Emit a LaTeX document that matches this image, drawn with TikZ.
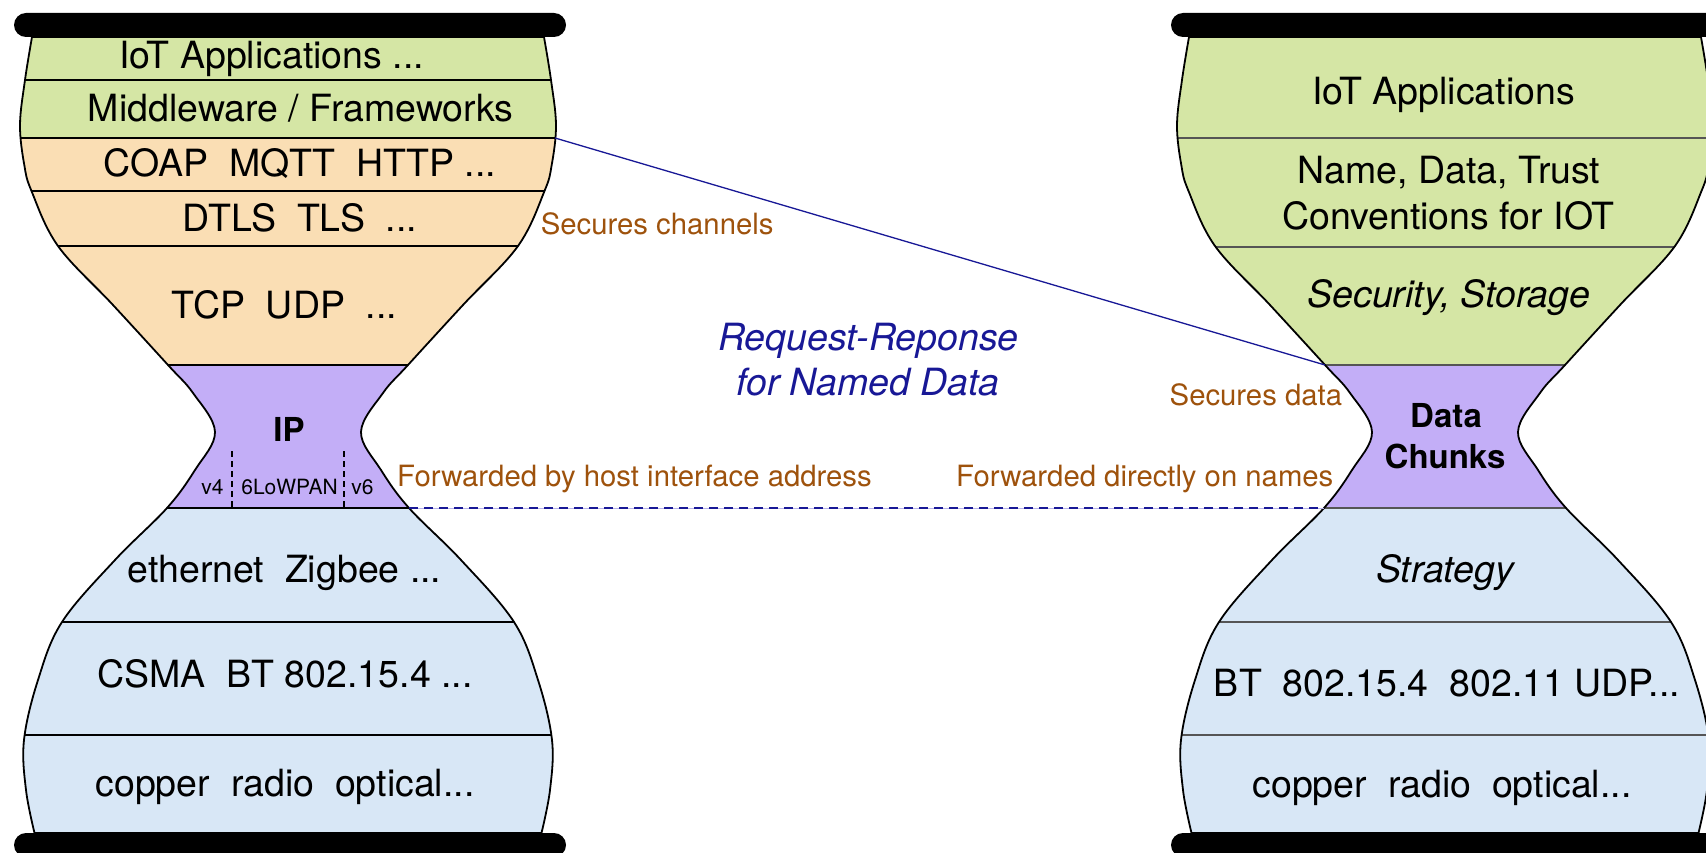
\documentclass[tikz,border=0pt]{standalone}
\usepackage{fontspec}
\setmainfont{TeX Gyre Heros}
\definecolor{layergreen}{RGB}{213,230,165}
\definecolor{layerpeach}{RGB}{250,222,180}
\definecolor{layerpurple}{RGB}{195,174,247}
\definecolor{layerblue}{RGB}{216,231,246}
\definecolor{notebrown}{RGB}{158,82,12}
\definecolor{linknavy}{RGB}{24,24,150}
\definecolor{linkhaze}{RGB}{185,180,236}
\definecolor{sepgray}{RGB}{85,85,85}

% outline of one hourglass, centred on x = 0
\newcommand{\hgpath}{plot[smooth,tension=0.6] coordinates {(-256,37) (-263,80) (-268,125) (-263.7,165) (-256.5,191) (-230,246) (-175,305) (-120,365) (-95,393) (-73,432) (-93,470) (-121,508) (-173,560) (-226,622) (-250,680) (-264,740) (-262,790) (-253.5,833)}
 -- plot[smooth,tension=0.6] coordinates {(253.5,833) (262,790) (264,740) (250,680) (226,622) (173,560) (121,508) (93,470) (73,432) (95,393) (120,365) (175,305) (230,246) (256.5,191) (263.7,165) (268,125) (263,80) (256,37)} -- cycle}

\tikzset{
  layertext/.style={inner sep=0pt, anchor=base, font=\fontsize{37.5}{45}\selectfont},
  layeritalic/.style={layertext, font=\fontsize{37.5}{45}\selectfont\itshape},
  neckbold/.style={inner sep=0pt, anchor=base, font=\fontsize{33}{40}\selectfont\bfseries},
  subtext/.style={inner sep=0pt, anchor=base, font=\fontsize{21}{25}\selectfont},
  note/.style={inner sep=0pt, anchor=base west, text=notebrown, font=\fontsize{29.3}{35}\selectfont},
  flowtext/.style={inner sep=0pt, anchor=base, text=linknavy, font=\fontsize{37.5}{45}\selectfont\itshape},
  outline/.style={draw=black, line width=1.8pt},
  leftsep/.style={draw=black, line width=1.8pt},
  rightsep/.style={draw=sepgray, line width=1.1pt},
  ipdash/.style={draw=black, line width=1.5pt, dash pattern=on 6pt off 4pt},
  bar/.style={fill=black, rounded corners=12pt},
  linksolid/.style={draw=linknavy, line width=1.3pt},
  linkdash/.style={draw=linknavy, line width=2pt, dash pattern=on 9pt off 6pt},
  linkunder/.style={draw=linkhaze, line width=0.9pt}
}

\begin{document}
\begin{tikzpicture}[x=1pt,y=-1pt]
\clip (0,0) rectangle (1706,853);
\fill[white] (0,0) rectangle (1706,853);

% IP-based stack
\begin{scope}[xshift=288pt]
  \begin{scope}
    \clip \hgpath;
    \fill[layergreen]  (-300,20) rectangle (300,138);
    \fill[layerpeach]  (-300,138) rectangle (300,365);
    \fill[layerpurple] (-300,365) rectangle (300,508);
    \fill[layerblue]   (-300,508) rectangle (300,850);
    \foreach \yy in {80,138,191,246,365,508,622,735}
      \draw[leftsep] (-300,\yy) -- (300,\yy);
  \end{scope}
  \draw[outline] \hgpath;
  \fill[bar] (-274,13) rectangle (278,37);
  \fill[bar] (-274,833) rectangle (278,857);
  \draw[ipdash] (-56,451) -- (-56,508);
  \draw[ipdash] (56,451) -- (56,508);
  \coordinate (ipChannel) at (267,138);
  \coordinate (ipFwd) at (121,508);

  \node[layertext] (lApp)  at (-16.3,69)  {IoT Applications ...};
  \node[layertext] (lMid)  at (12.8,122)  {Middleware / Frameworks};
  \node[layertext] (lCoap) at (12,177)    {COAP\ \ MQTT\ \ HTTP ...};
  \node[layertext] (lDtls) at (12,232)    {DTLS\ \ TLS\ \ ...};
  \node[layertext] (lTcp)  at (-3.5,318)  {TCP\ \ UDP\ \ ...};
  \node[neckbold]  (lIp)   at (1,441)     {IP};
  \node[subtext]   (lV4)   at (-75.5,494) {v4};
  \node[subtext]   (lLow)  at (1.5,494)   {6LoWPAN};
  \node[subtext]   (lV6)   at (74.5,494)  {v6};
  \node[layertext] (lEth)  at (-3.5,582.7){ethernet\ \ Zigbee ...};
  \node[layertext] (lCsma) at (-3,687)    {CSMA\ \ BT 802.15.4 ...};
  \node[layertext] (lPhy)  at (-3,796)    {copper\ \ radio\ \ optical...};
\end{scope}

% named-data stack
\begin{scope}[xshift=1445pt]
  \begin{scope}
    \clip \hgpath;
    \fill[layergreen]  (-300,20) rectangle (300,365);
    \fill[layerpurple] (-300,365) rectangle (300,508);
    \fill[layerblue]   (-300,508) rectangle (300,850);
    \foreach \yy in {138,247,365,508,622,735}
      \draw[rightsep] (-300,\yy) -- (300,\yy);
  \end{scope}
  \draw[outline] \hgpath;
  \fill[bar] (-274,13) rectangle (278,37);
  \fill[bar] (-274,833) rectangle (278,857);
  \coordinate (ndnData) at (-120,365);
  \coordinate (ndnFwd) at (-121,508);

  \node[layertext]   (rApp)   at (-1.5,105) {IoT Applications};
  \node[layertext]   (rName)  at (4,184)    {Name, Data, Trust};
  \node[layertext]   (rConv)  at (3.4,230)  {Conventions for IOT};
  \node[layeritalic] (rSec)   at (3.8,307)  {Security, Storage};
  \node[neckbold]    (rData)  at (1,427)    {Data};
  \node[neckbold]    (rChunk) at (0,468)    {Chunks};
  \node[layeritalic] (rStrat) at (0,582)    {Strategy};
  \node[layertext]   (rLink)  at (2,696)    {BT\ \ 802.15.4\ \ 802.11 UDP...};
  \node[layertext]   (rPhy)   at (-3,797)   {copper\ \ radio\ \ optical...};
\end{scope}

% links between the two stacks
\draw[linksolid] (ipChannel) -- (ndnData);
\draw[linkunder] (ipFwd) -- (ndnFwd);
\draw[linkdash] (ipFwd) -- (ndnFwd);

% annotations
\node[note] (nChan)   at (540.7,235) {Secures channels};
\node[note] (nHost)   at (397,486)   {Forwarded by host interface address};
\node[note] (nDirect) at (956,486)   {Forwarded directly on names};
\node[note] (nData)   at (1169.5,405){Secures data};
\node[flowtext] (req1) at (868.5,350) {Request-Reponse};
\node[flowtext] (req2) at (868,395)   {for Named Data};
\end{tikzpicture}
\end{document}
